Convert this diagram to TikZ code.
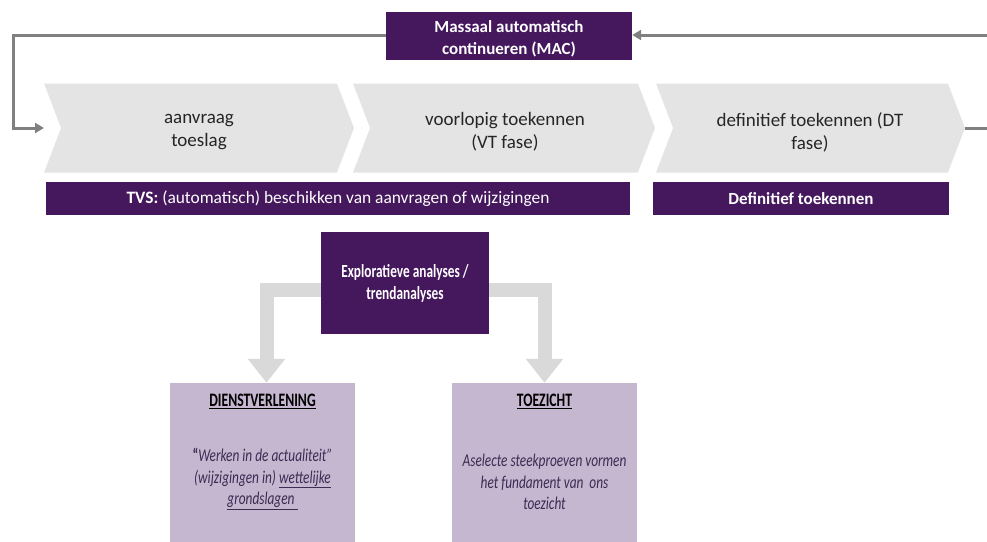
\documentclass[tikz,border=0pt]{standalone}
\usepackage{fontspec}
\setmainfont{Carlito}
\newfontfamily\narrowfont[FakeStretch=0.72]{Carlito}
\newfontfamily\bodyfont[FakeStretch=0.74]{Carlito}
\usepackage{tikz}
\usetikzlibrary{positioning}
\usetikzlibrary{shapes.symbols}
\usetikzlibrary{arrows.meta}
\definecolor{darkpurple}{HTML}{45175D}
\definecolor{lavender}{HTML}{C5B7D0}
\definecolor{phasegray}{HTML}{E4E4E4}
\definecolor{arrowgray}{HTML}{D9D9D9}
\definecolor{linegray}{HTML}{808080}
\definecolor{bodytext}{HTML}{3E2A52}
\definecolor{phasetext}{HTML}{262626}
\tikzset{
    toeslag flow/.style={
            x=1pt,y=-1pt,
            phase/.style={signal,signal to=east,signal from=west,
                signal pointer angle=138,fill=phasegray,inner sep=0pt,
                minimum height=89pt},
            phasetext/.style={text=phasetext,align=center,
                font=\fontsize{19}{23}\selectfont},
            darkbox/.style={fill=darkpurple,inner sep=0pt},
            whitetext/.style={text=white,align=center,inner sep=0pt},
            lightbox/.style={fill=lavender,inner sep=0pt,minimum width=185pt,minimum height=166pt},
            boxtitle/.style={font=\narrowfont\bfseries\fontsize{19}{22}\selectfont},
            boxbody/.style={text=bodytext,align=center,
                font=\bodyfont\itshape\fontsize{18}{21.5}\selectfont},
            feedback/.style={draw=linegray,line width=3pt,-{Triangle[width=10pt,length=9pt]}},
            bigarrow/.style={draw=arrowgray,line width=14pt,-{Triangle[width=36pt,length=24pt]}}
        }
    }
\begin{document}
\begin{tikzpicture}[toeslag flow]
    \useasboundingbox (0,0) rectangle (987,541);
    \clip (0,0) rectangle (987,541);
    % fases
    \node[phase,minimum width=310pt] (aanvraag) at (199,128) {};
    \node[phase,minimum width=302pt] (vt) at (504,128) {};
    \node[phase,minimum width=309pt] (dt) at (810.5,128) {};
    \node[phasetext] (aanvraagtekst) at (199,132) {aanvraag\\toeslag};
    \node[phasetext] (vttekst) at (505,132) {voorlopig toekennen\\(VT fase)};
    \node[phasetext] (dttekst) at (810,132) {definitief toekennen (DT\\fase)};
    % balken
    \node[darkbox,minimum width=246pt,minimum height=48pt] (mac) at (509,36) {};
    \node[whitetext,font=\bfseries\fontsize{17}{22}\selectfont] (mactekst) at (509,39)
        {Massaal automatisch\\continueren (MAC)};
    \node[darkbox,minimum width=584pt,minimum height=33pt,text=white,
        font=\fontsize{17.4}{18}\selectfont] (tvs) at (338,198.5)
        {\textbf{TVS:} (automatisch) beschikken van aanvragen of wijzigingen};
    \node[darkbox,minimum width=296pt,minimum height=33pt,text=white,
        font=\bfseries\fontsize{17}{18}\selectfont] (def) at (801,198.5)
        {Definitief toekennen};
    \node[darkbox,minimum width=168pt,minimum height=102pt,text=white,align=center,
        font=\narrowfont\bfseries\fontsize{18.5}{22}\selectfont] (expl) at (405,283)
        {Explorat\-ieve analyses /\\trendanalyses};
    % onderste blokken
    \node[lightbox] (dienst) at (262.5,466) {};
    \node[lightbox] (toezicht) at (544.5,466) {};
    \node[boxtitle] (dienstkop) at (262.5,401) {\underline{DIENSTVERLENING}};
    \node[boxtitle] (toezichtkop) at (544.5,401) {\underline{TOEZICHT}};
    \node[boxbody] (diensttekst) at (262.5,479)
        {{\upshape\bfseries “}Werken in de actualiteit”\\
         (wijzigingen in)\ \underline{wettelijke}\\\underline{grondslagen\ }};
    \node[boxbody] (toezichttekst) at (544.5,482)
        {Aselecte steekproeven vormen\\het fundament van\ \ ons\\toezicht};
    % terugkoppeling
    \coordinate (links boven) at (13,35);
    \coordinate (links onder) at (13,128);
    \coordinate (instap) at (44,128);
    \coordinate (rechts onder) at (1000,128);
    \coordinate (rechts boven) at (1000,35);
    \draw[feedback] (mac.west |- links boven) -- (links boven) -- (links onder) -- (instap);
    \draw[feedback] (dt.east) -- (rechts onder) -- (rechts boven) -- (mac.east |- rechts boven);
    % analyses
    \draw[bigarrow] ([yshift=-7pt]expl.west) -| ([xshift=4pt]dienst.north);
    \draw[bigarrow] ([yshift=-7pt]expl.east) -| (toezicht.north);
\end{tikzpicture}
\end{document}
